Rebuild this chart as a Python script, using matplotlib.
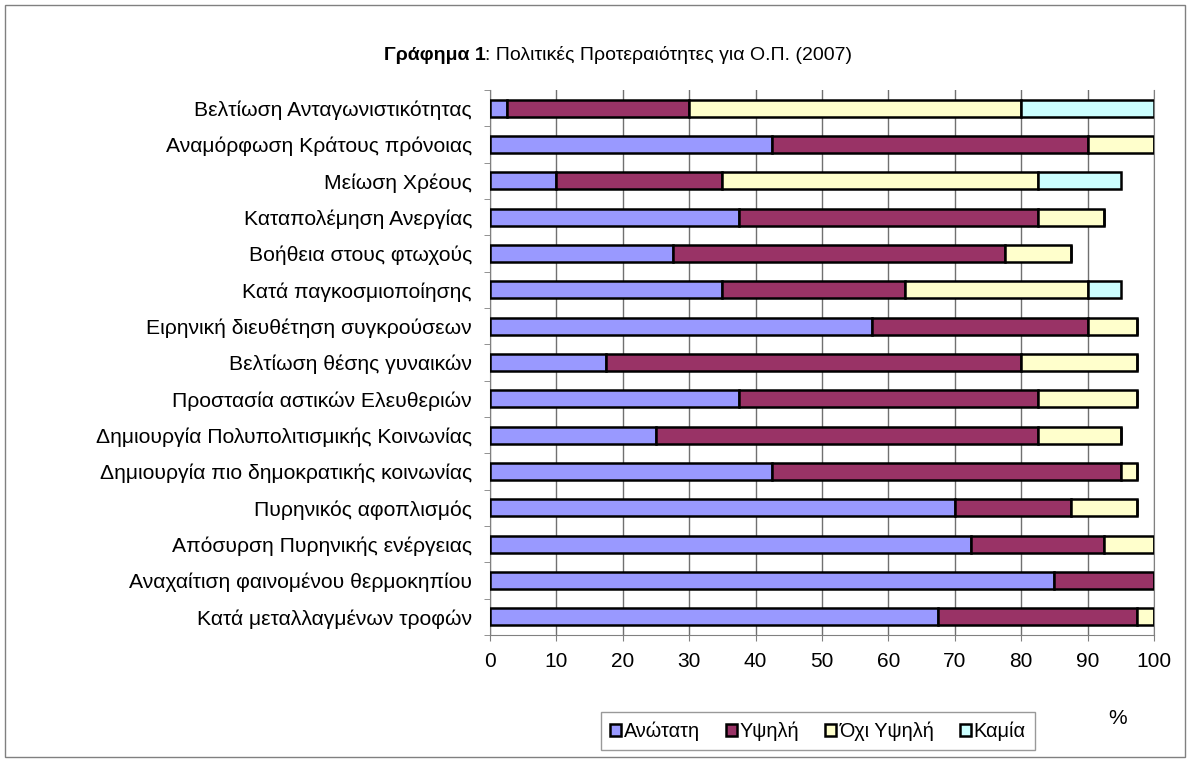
import matplotlib.pyplot as plt
import numpy as np
from matplotlib.patches import Rectangle

plt.rcParams['font.family'] = ['Liberation Sans', 'DejaVu Sans']

# κατηγορίες από πάνω προς τα κάτω
categories = ['Βελτίωση Ανταγωνιστικότητας', 'Αναμόρφωση Κράτους πρόνοιας', 'Μείωση Χρέους',
              'Καταπολέμηση Ανεργίας', 'Βοήθεια στους φτωχούς', 'Κατά παγκοσμιοποίησης',
              'Ειρηνική διευθέτηση συγκρούσεων', 'Βελτίωση θέσης γυναικών',
              'Προστασία αστικών Ελευθεριών', 'Δημιουργία Πολυπολιτισμικής Κοινωνίας',
              'Δημιουργία πιο δημοκρατικής κοινωνίας', 'Πυρηνικός αφοπλισμός',
              'Απόσυρση Πυρηνικής ενέργειας', 'Αναχαίτιση φαινομένου θερμοκηπίου',
              'Κατά μεταλλαγμένων τροφών']
anotati = [2.5, 42.5, 10, 37.5, 27.5, 35, 57.5, 17.5, 37.5, 25, 42.5, 70, 72.5, 85, 67.5]
ypsili = [27.5, 47.5, 25, 45, 50, 27.5, 32.5, 62.5, 45, 57.5, 52.5, 17.5, 20, 15, 30]
ochi_ypsili = [50, 10, 47.5, 10, 10, 27.5, 7.5, 17.5, 15, 12.5, 2.5, 10, 7.5, 0, 2.5]
kamia = [20, 0, 12.5, 0, 0, 5, 0, 0, 0, 0, 0, 0, 0, 0, 0]
series = ['Ανώτατη', 'Υψηλή', 'Όχι Υψηλή', 'Καμία']
colors = ['#9999FF', '#993366', '#FFFFCC', '#CCFFFF']

W, H = 1189, 762
fig = plt.figure(figsize=(W / 100, H / 100), dpi=100)
ax = fig.add_axes([490 / W, 1 - 635 / H, 664 / W, 545 / H])

y = np.arange(len(categories))[::-1]
left = np.zeros(len(categories))
for vals, name, c in zip([anotati, ypsili, ochi_ypsili, kamia], series, colors):
    vals = np.array(vals, dtype=float)
    ax.barh(y, vals, left=left, height=0.47, color=c, edgecolor='black',
            linewidth=1.8, label=name, zorder=3)
    left += vals

ax.set_xlim(0, 100)
ax.set_ylim(-0.5, len(categories) - 0.5)
ax.set_xticks(range(0, 101, 10))
ax.set_yticks(y)
ax.set_yticklabels(categories, fontsize=15.2)
ax.set_yticks(np.arange(-0.5, len(categories), 1), minor=True)
ax.tick_params(axis='y', which='major', length=0, pad=13)
ax.tick_params(axis='y', which='minor', length=4, color='#808080')
ax.tick_params(axis='x', labelsize=15, length=4, color='#808080', pad=8)
ax.xaxis.grid(True, color='#707070', linewidth=1, zorder=0)
ax.spines['top'].set_visible(False)
ax.spines['right'].set_color('#808080')
ax.spines['left'].set_color('#808080')
ax.spines['bottom'].set_color('#808080')

fig.text(1118 / W, 1 - 718 / H, '%', fontsize=15, ha='center', va='center')

# τίτλος: έντονο μέρος + κανονικό, κεντραρισμένα μαζί
ty = 1 - 55 / H
t1 = fig.text(0, ty, 'Γράφημα 1', fontsize=14, fontweight='bold', ha='left', va='center')
t2 = fig.text(0, ty, ': Πολιτικές Προτεραιότητες για Ο.Π. (2007)', fontsize=14, ha='left', va='center')
fig.canvas.draw()
w1 = t1.get_window_extent().width
w2 = t2.get_window_extent().width
x0 = 618 - (w1 + w2) / 2
t1.set_x(x0 / W)
t2.set_x((x0 + w1) / W)

leg = fig.legend(loc='center', bbox_to_anchor=(818 / W, 1 - 731 / H), ncol=4, fontsize=14.3,
                 frameon=True, fancybox=False, edgecolor='#808080', handlelength=0.55,
                 handleheight=0.55, handletextpad=0.15, columnspacing=1.3, borderpad=0.45)
leg.get_frame().set_linewidth(1)

fig.patches.append(Rectangle((5 / W, 1 - 757 / H), 1180 / W, 752 / H, fill=False,
                             edgecolor='#808080', linewidth=1, transform=fig.transFigure))

fig.savefig('out.png', dpi=100)
